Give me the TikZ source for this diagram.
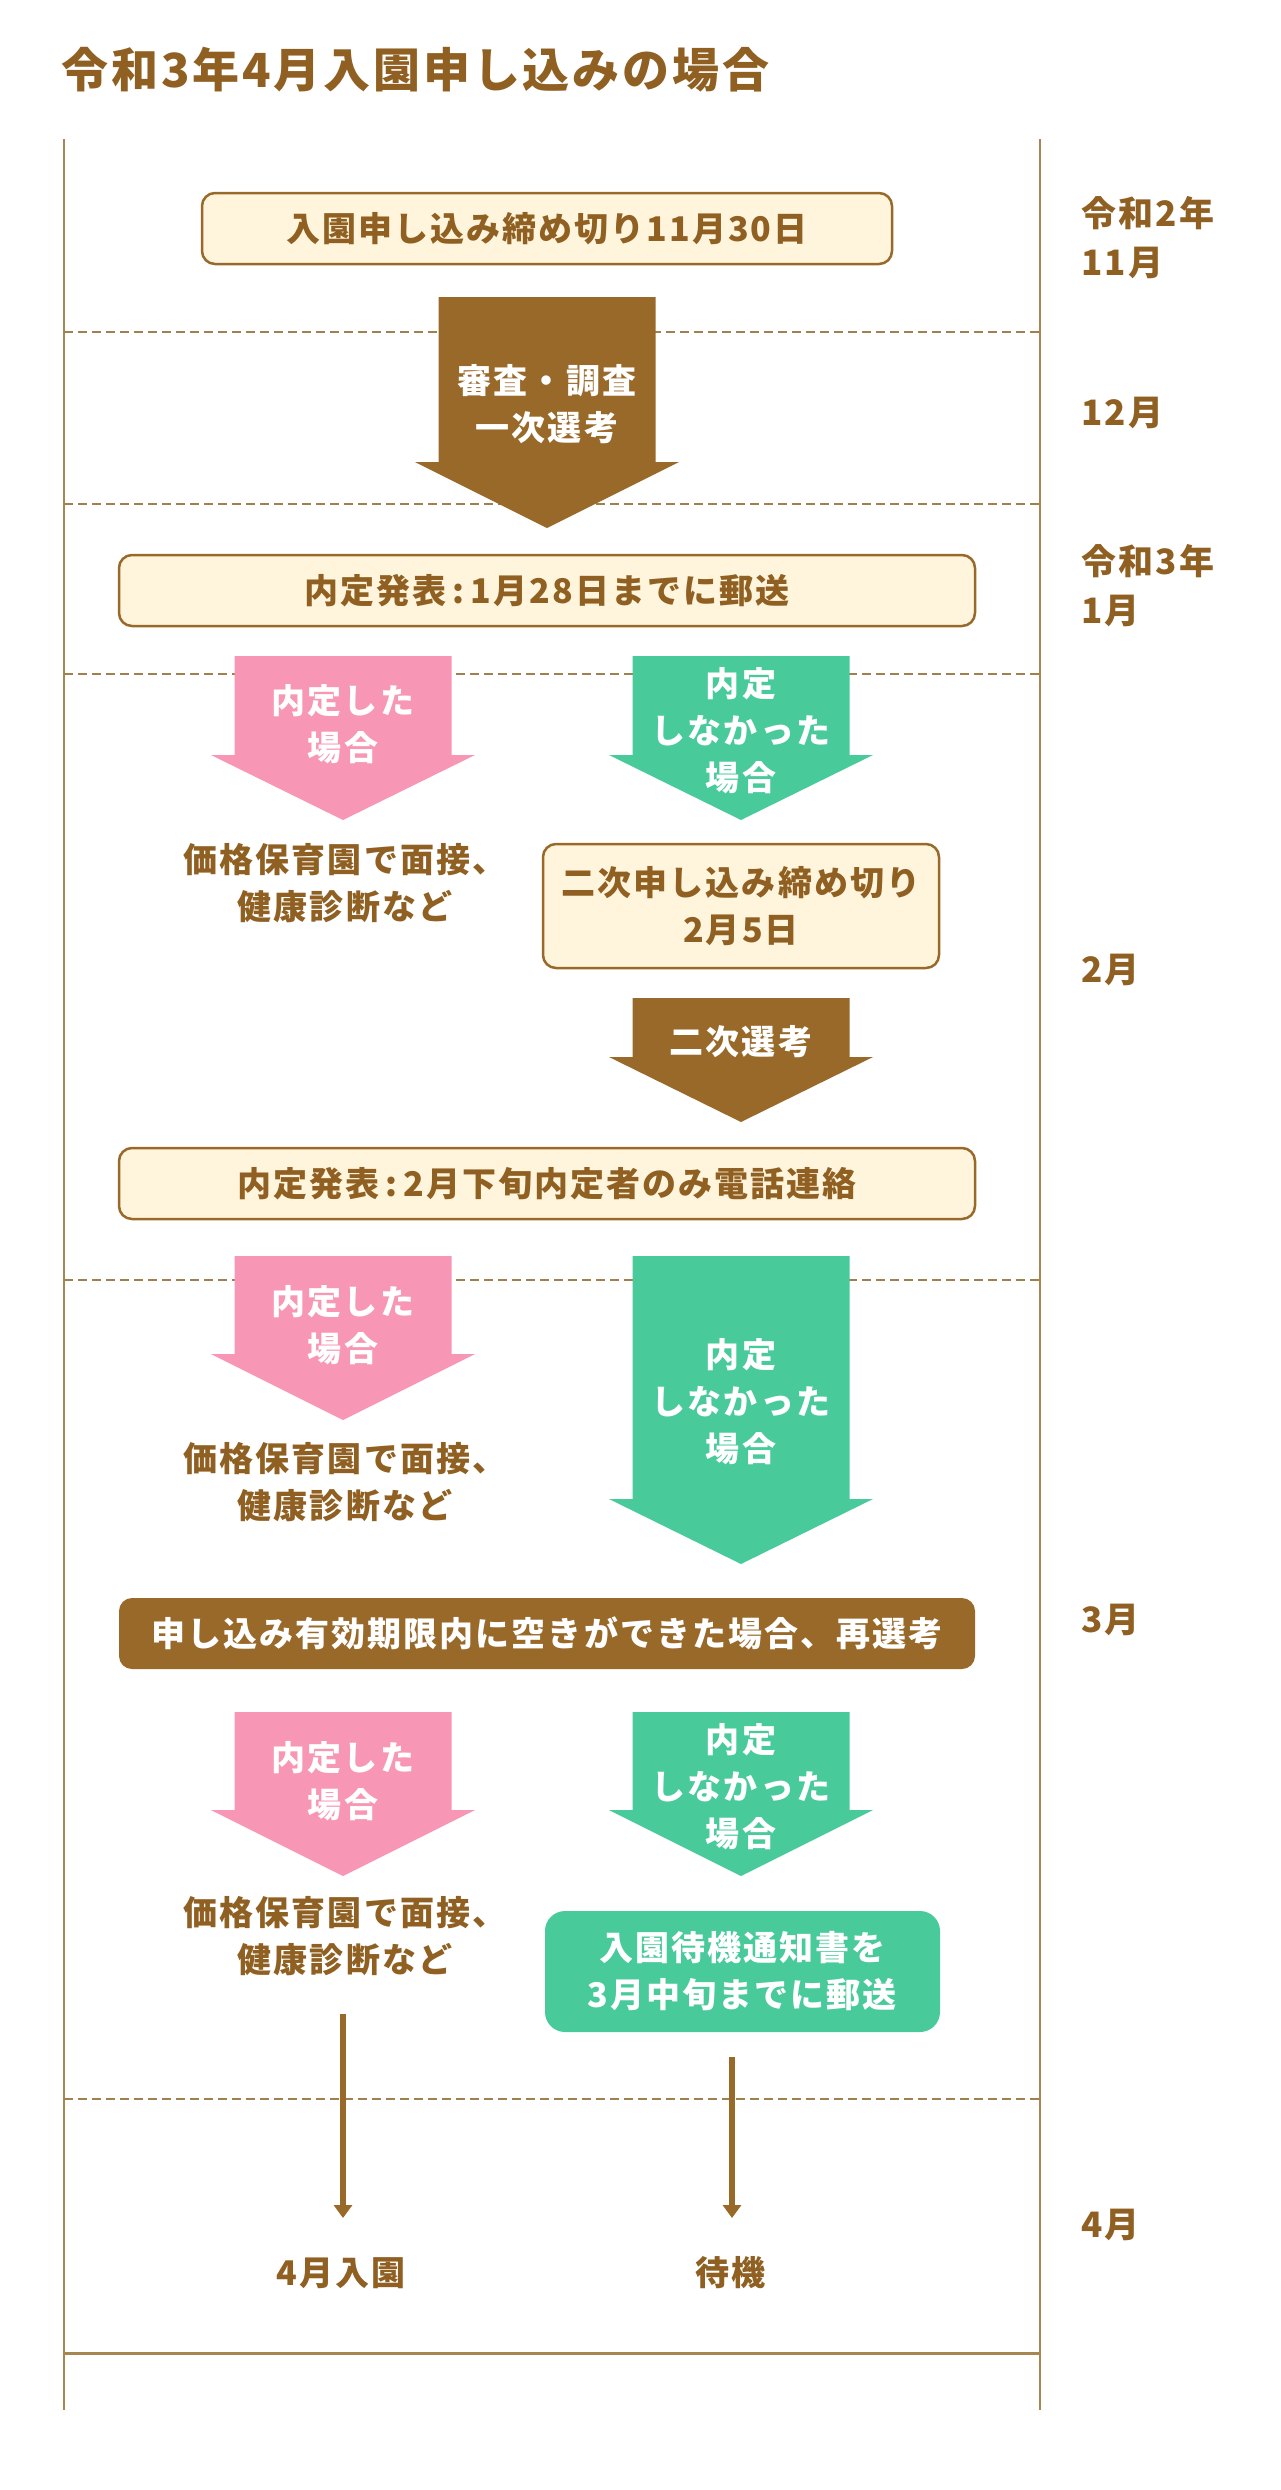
\documentclass[tikz,border=0pt]{standalone}
\usepackage{fontspec}
\setmainfont{Noto Sans CJK JP}[LetterSpace=6]
\usetikzlibrary{arrows.meta}

\definecolor{brown}{HTML}{99692A}
\definecolor{txtbrown}{HTML}{8F6022}
\definecolor{cream}{HTML}{FFF4DC}
\definecolor{pink}{HTML}{F797B5}
\definecolor{mint}{HTML}{48CA9B}
\definecolor{frameline}{HTML}{A8864F}
\definecolor{sepline}{HTML}{A0804F}

\newcommand{\boxfont}{\fontsize{34}{47}\selectfont\bfseries}
\newcommand{\bigarrow}[5]{% colour, centre x, top, base, tip
	\fill[#1] (#2-108.5,#3) -- (#2+108.5,#3) -- (#2+108.5,#4) -- (#2+132,#4) -- (#2,#5) -- (#2-132,#4) -- (#2-108.5,#4) -- cycle;}

\tikzset{
	datebox/.style={draw=brown, line width=2.5pt, fill=cream, rounded corners=13pt, text=txtbrown, font=\boxfont, align=center},
	inarrow/.style={text=white, font=\boxfont, align=center},
	note/.style={text=txtbrown, font=\boxfont, align=center},
	month/.style={anchor=west, text=txtbrown, font=\fontsize{35}{49}\selectfont\bfseries, align=left},
	sep/.style={draw=sepline, line width=2.5pt, dash pattern=on 9pt off 5pt},
	flow/.style={draw=brown, line width=6.5pt, -{Triangle[width=18pt,length=13pt]}}
}

\begin{document}
\begin{tikzpicture}[x=1pt, y=-1pt]
	\useasboundingbox (0,0) rectangle (1280,2490);

	% title
	\node[anchor=west, text=txtbrown, font=\fontsize{47}{50}\selectfont\bfseries] (title) at (58,70) {令和3年4月入園申し込みの場合};

	% frame and month rows
	\draw[frameline, line width=2pt] (64,139) -- (64,2410);
	\draw[frameline, line width=2pt] (1040,139) -- (1040,2410);
	\draw[frameline, line width=3pt] (64,2353) -- (1040,2353);
	\foreach \y in {332,504,674,1280,2099}
		\draw[sep] (64,\y) -- (1040,\y);

	\node[month] (m11) at (1078,237.5) {令和2年\\11月};
	\node[month] (m12) at (1078,413) {12月};
	\node[month] (m1) at (1078,586) {令和3年\\1月};
	\node[month] (m2) at (1078,970) {2月};
	\node[month] (m3) at (1078,1620) {3月};
	\node[month] (m4) at (1078,2225) {4月};

	% 11月 - 1月
	\node[datebox, minimum width=690pt, minimum height=71pt] (apply) at (547,228.5) {入園申し込み締め切り11月30日};
	\bigarrow{brown}{547}{297}{462}{528}
	\node[inarrow] (check) at (547,404.5) {審査・調査\\一次選考};
	\node[datebox, minimum width=856pt, minimum height=71pt] (result1) at (547,590.5) {内定発表\hspace{6pt}:\hspace{6pt}1月28日までに郵送};

	% 2月
	\bigarrow{pink}{343}{656}{755}{820}
	\node[inarrow] (ok1) at (343,724.5) {内定した\\場合};
	\bigarrow{mint}{741}{656}{755}{820}
	\node[inarrow] (ng1) at (741,731) {内定\\しなかった\\場合};
	\node[note] (interview1) at (345,883) {価格保育園で面接、\\健康診断など};
	\node[datebox, minimum width=396pt, minimum height=124pt] (apply2) at (741,906) {二次申し込み締め切り\\2月5日};
	\bigarrow{brown}{741}{998}{1057}{1122}
	\node[inarrow] (sel2) at (741,1042) {二次選考};
	\node[datebox, minimum width=856pt, minimum height=71pt] (result2) at (547,1183.5) {内定発表\hspace{6pt}:\hspace{6pt}2月下旬内定者のみ電話連絡};

	% 3月
	\bigarrow{pink}{343}{1256}{1354}{1420}
	\node[inarrow] (ok2) at (343,1325.5) {内定した\\場合};
	\bigarrow{mint}{741}{1256}{1499}{1564}
	\node[inarrow] (ng2) at (741,1402) {内定\\しなかった\\場合};
	\node[note] (interview2) at (345,1482) {価格保育園で面接、\\健康診断など};
	\node[fill=brown, rounded corners=13pt, minimum width=856pt, minimum height=71pt, inarrow] (resel) at (547,1633.5) {申し込み有効期限内に空きができた場合、再選考};
	\bigarrow{pink}{343}{1712}{1810}{1876}
	\node[inarrow] (ok3) at (343,1781.5) {内定した\\場合};
	\bigarrow{mint}{741}{1712}{1810}{1876}
	\node[inarrow] (ng3) at (741,1787) {内定\\しなかった\\場合};
	\node[note] (interview3) at (345,1936) {価格保育園で面接、\\健康診断など};
	\node[fill=mint, rounded corners=20pt, minimum width=395pt, minimum height=121pt, inarrow] (wait) at (742.5,1971.5) {入園待機通知書を\\3月中旬までに郵送};

	% 4月
	\node[note] (enter) at (341,2273) {4月入園};
	\node[note] (standby) at (731,2273) {待機};
	\coordinate (s1) at (343,2014);
	\coordinate (s2) at (732,2057);
	\draw[flow] (s1) -- (s1 |- 0,2218);
	\draw[flow] (s2) -- (s2 |- 0,2218);
\end{tikzpicture}
\end{document}
